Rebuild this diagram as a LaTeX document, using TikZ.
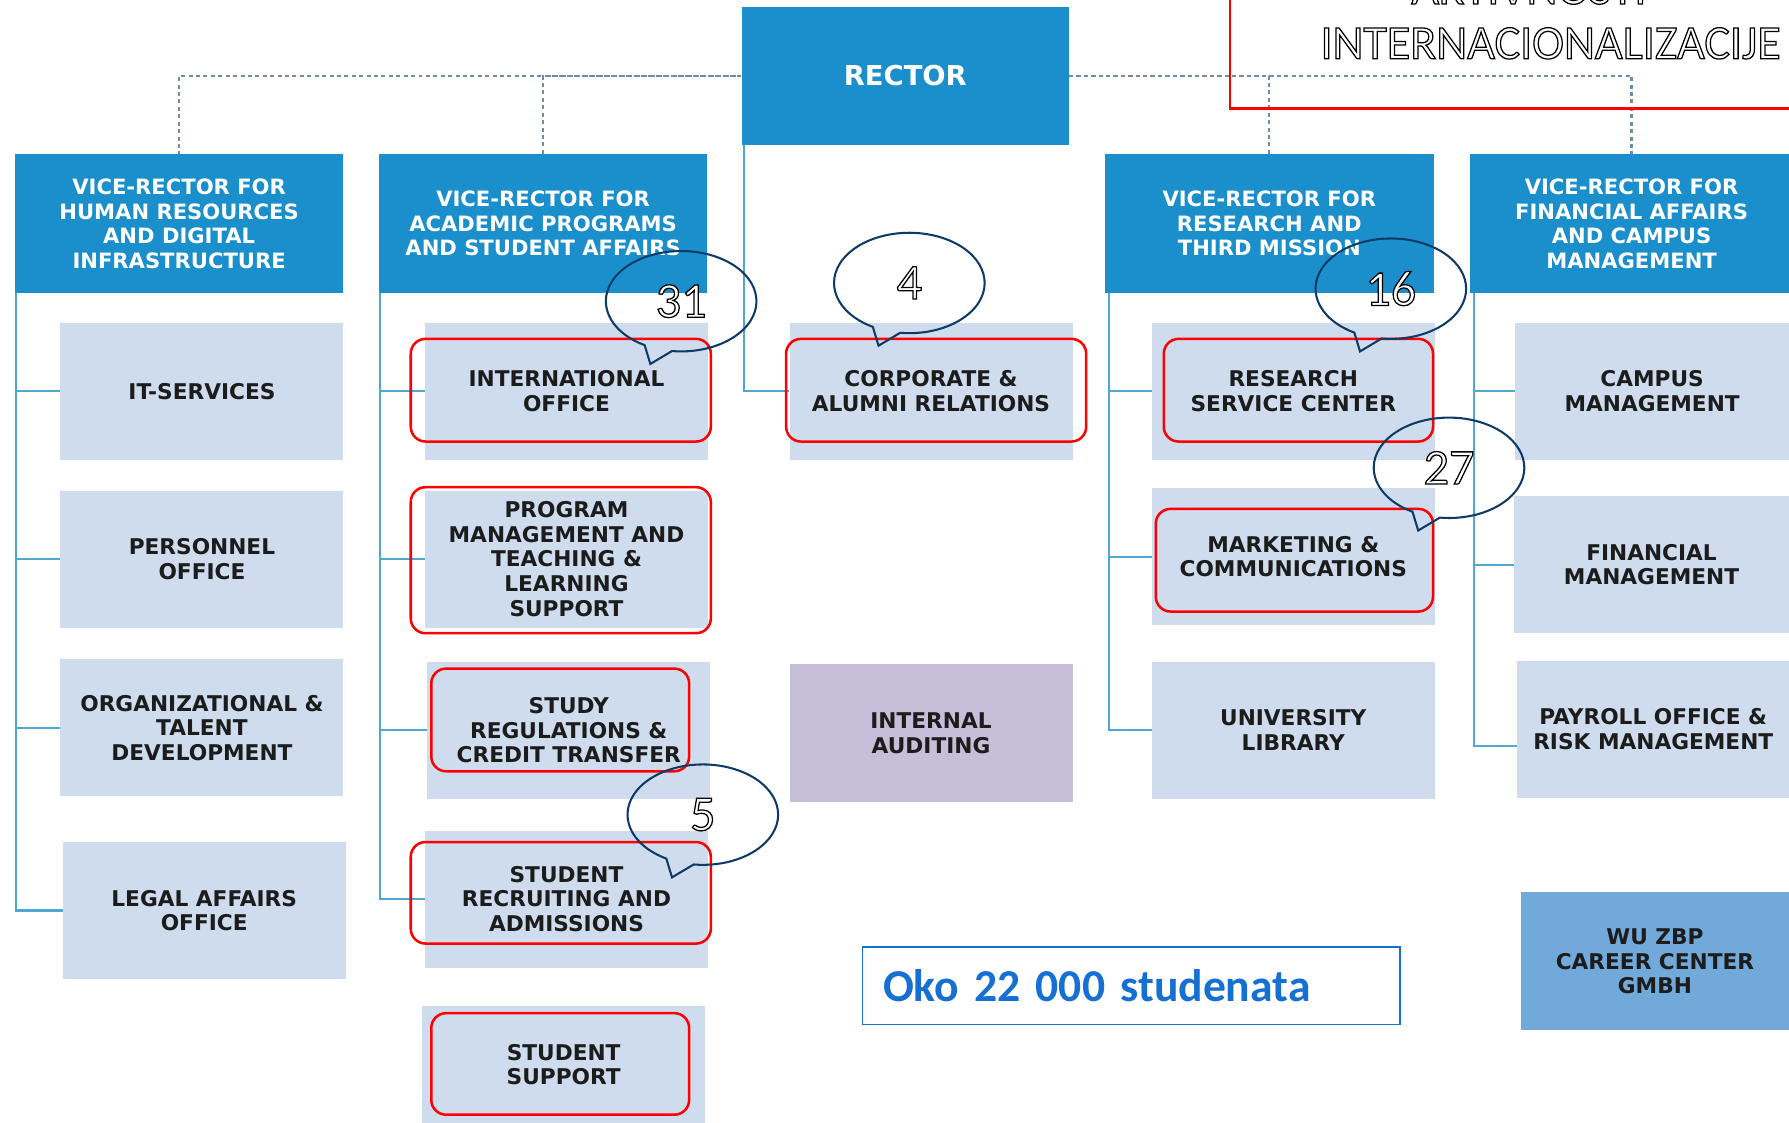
\documentclass[tikz,border=0pt]{standalone}
\usepackage{fontspec}
\setmainfont{DejaVu Sans}
\newfontfamily\calfont{Carlito}

\definecolor{vrblue}{HTML}{1A8FCB}
\definecolor{unitblue}{HTML}{CEDCED}
\definecolor{auditlila}{HTML}{C7BED9}
\definecolor{zbpblue}{HTML}{70A9DA}
\definecolor{linecol}{HTML}{4FA8D2}
\definecolor{dashcol}{HTML}{6F8DA8}
\definecolor{navy}{HTML}{0E3A66}
\definecolor{okoblue}{HTML}{1670D4}
\definecolor{ink}{HTML}{1C1C1C}

\newcommand\outl[1]{{\color{white}\special{pdf:literal direct 2 Tr 1.1 w 0 0 0 RG}#1\special{pdf:literal direct 0 Tr}}}

\tikzset{
  vr/.style={fill=vrblue, text=white, font=\bfseries\fontsize{18.5}{21.5}\selectfont,
    minimum width=288pt, minimum height=122pt, align=center, inner sep=0pt},
  unit/.style={fill=unitblue, text=ink, font=\bfseries\fontsize{19}{21.5}\selectfont,
    minimum width=248pt, minimum height=120pt, align=center, inner sep=0pt},
  link/.style={draw=linecol, line width=2pt},
  dline/.style={draw=dashcol, line width=2pt, dash pattern=on 3.5pt off 3pt},
  hl/.style={draw=red, line width=2.2pt, rounded corners=13pt},
  bub/.style={draw=navy, line width=1.8pt},
  num/.style={font=\calfont\fontsize{44}{44}\selectfont, inner sep=0pt},
}

\newcommand\bubble[4]{%
  \draw[bub] (#2-27,#3+55) -- (#2-32,#3+38.5)
    arc[start angle=119, end angle=457, x radius=66, y radius=44] -- cycle;
  \node[num] (#1) at (#2,#3) {\outl{#4}};}

\begin{document}
\begin{tikzpicture}[x=1pt,y=-1pt]
\useasboundingbox (0,0) rectangle (1568,984);
\fill[white] (0,0) rectangle (1568,984);

\node[fill=vrblue, text=white, font=\bfseries\fontsize{24}{24}\selectfont,
  minimum width=287pt, minimum height=121pt, inner sep=0pt] (rector) at (793.5,66.5) {RECTOR};

\node[vr] (vrhr) at (157,196) {VICE-RECTOR FOR\\HUMAN RESOURCES\\AND DIGITAL\\INFRASTRUCTURE};
\node[vr] (vrac) at (476,196) {VICE-RECTOR FOR\\ACADEMIC PROGRAMS\\AND STUDENT AFFAIRS};
\node[vr] (vrre) at (1112.5,196) {VICE-RECTOR FOR\\RESEARCH AND\\THIRD MISSION};
\node[vr, minimum width=284pt] (vrfi) at (1430,196) {VICE-RECTOR FOR\\FINANCIAL AFFAIRS\\AND CAMPUS\\MANAGEMENT};

\draw[dline] (rector.west) -| (vrhr.north);
\draw[dline] (vrac.north) |- (rector.west);
\draw[dline] (rector.east) -| (vrfi.north);
\draw[dline] (vrre.north) |- (rector.east);

\node[unit] (it) at (177,343) {IT-SERVICES};
\node[unit] (pers) at (177,490) {PERSONNEL\\OFFICE};
\node[unit] (org) at (177,638) {ORGANIZATIONAL \&\\TALENT\\DEVELOPMENT};
\node[unit] (legal) at (179,798) {LEGAL AFFAIRS\\OFFICE};

\node[unit] (intl) at (496.5,343) {INTERNATIONAL\\OFFICE};
\node[unit] (prog) at (496.5,490) {PROGRAM\\MANAGEMENT AND\\TEACHING \&\\LEARNING\\SUPPORT};
\node[unit] (study) at (498.5,640) {STUDY\\REGULATIONS \&\\CREDIT TRANSFER};
\node[unit] (recr) at (496.5,788) {STUDENT\\RECRUITING AND\\ADMISSIONS};
\node[unit, minimum height=102pt] (supp) at (494,933) {STUDENT\\SUPPORT};

\node[unit] (corp) at (816,343) {CORPORATE \&\\ALUMNI RELATIONS};
\node[unit, fill=auditlila, minimum height=121pt] (audit) at (816,642.5) {INTERNAL\\AUDITING};

\node[unit] (res) at (1133.5,343) {RESEARCH\\SERVICE CENTER};
\node[unit] (mkt) at (1133.5,488) {MARKETING \&\\COMMUNICATIONS};
\node[unit] (lib) at (1133.5,640) {UNIVERSITY\\LIBRARY};

\node[unit, minimum width=240pt] (camp) at (1448,343) {CAMPUS\\MANAGEMENT};
\node[unit, minimum width=241pt] (fin) at (1447.5,495) {FINANCIAL\\MANAGEMENT};
\node[unit, minimum width=238pt] (pay) at (1449,639) {PAYROLL OFFICE \&\\RISK MANAGEMENT};
\node[unit, fill=zbpblue, minimum width=235pt, minimum height=121pt] (zbp) at (1450.5,842.5) {WU ZBP\\CAREER CENTER\\GMBH};

\foreach \b in {it,pers,org,legal}
  \draw[link] ([xshift=1pt]vrhr.south west) |- (\b.west);
\foreach \b in {intl,prog,study,recr}
  \draw[link] ([xshift=1pt]vrac.south west) |- (\b.west);
\draw[link] ([xshift=2pt]rector.south west) |- (corp.west);
\foreach \b in {res,mkt,lib}
  \draw[link] ([xshift=4pt]vrre.south west) |- (\b.west);
\foreach \b in {camp,fin}
  \draw[link] ([xshift=4pt]vrfi.south west) |- (\b.west);
\draw[link] ([xshift=4pt]vrfi.south west) |- ([yshift=-15pt]pay.west);

\draw[hl] (360,297) rectangle (623,387);
\draw[hl] (360,427) rectangle (623,555);
\draw[hl] (378,586) rectangle (604,676);
\draw[hl] (360,738) rectangle (623,827);
\draw[hl] (378,888) rectangle (604,977);
\draw[hl] (689,297) rectangle (952,387);
\draw[hl] (1020,297) rectangle (1256,387);
\draw[hl] (1013,446) rectangle (1256,536);

\bubble{n31}{597}{264}{31}
\bubble{n4}{797}{248}{4}
\bubble{n16}{1219}{253}{16}
\bubble{n27}{1270}{410}{27}
\bubble{n5}{616}{714}{5}

\node[draw=okoblue, line width=1.5pt, minimum width=471pt, minimum height=68pt,
  inner xsep=18pt, text width=435pt, align=left, text=okoblue,
  font=\calfont\bfseries\fontsize{40}{40}\selectfont] (oko) at (991.5,864) {Oko 22 000 studenata};

\draw[red, line width=2.2pt] (1078,-10) rectangle (1580,95);
\node[num, font=\calfont\fontsize{42}{42}\selectfont, anchor=base] (title0) at (1340,3.5) {\outl{AKTIVNOSTI}};
\node[num, font=\calfont\fontsize{42}{42}\selectfont] (title) at (1359,38) {\outl{INTERNACIONALIZACIJE}};
\end{tikzpicture}
\end{document}
